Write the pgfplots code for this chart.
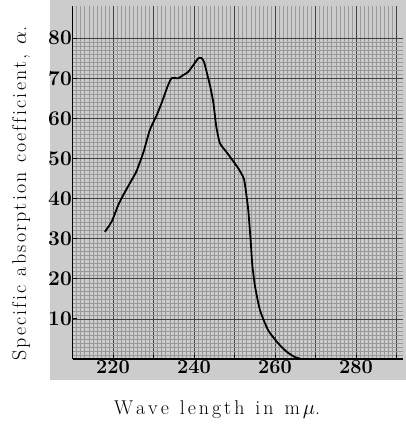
\documentclass[border=0pt]{standalone}
\usepackage{fontspec}
\usepackage{pgfplots}
\pgfplotsset{compat=1.18}
\usetikzlibrary{backgrounds}
% simple letter spacing, one word at a time
\makeatletter
\def\ls@k{0.15em}
\newcommand\lw[1]{\ls@go#1\@nil}
\def\ls@go#1{\ifx#1\@nil\else#1\kern\ls@k\expandafter\ls@go\fi}
\newcommand\lsk[1]{\def\ls@k{#1}}
\makeatother

\begin{document}
\begin{tikzpicture}
\begin{axis}[
  at={(72.5bp,69bp)}, anchor=south west,
  scale only axis, width=330bp, height=353bp,
  xmin=210, xmax=291.5, ymin=0, ymax=88,
  axis x line*=bottom, axis y line*=left,
  axis line style={-, line width=1.8bp, black},
  xtick={210,220,...,290},
  xticklabels={,220,,240,,260,,280,},
  ytick={0,10,...,80},
  yticklabels={,10,20,30,40,50,60,70,80},
  minor x tick num=9, minor y tick num=9,
  tick align=inside, major tick length=4bp, minor tick length=0pt,
  tick style={black, line width=0.8bp},
  grid=both,
  minor grid style={gray!80, line width=0.3bp},
  major grid style={black!75, line width=0.6bp},
  /pgf/number format/assume math mode=true,
  xticklabel style={anchor=north, inner sep=1bp,
    font=\bfseries\fontsize{20}{20}\selectfont},
  yticklabel style={anchor=east, inner sep=0.5bp,
    font=\bfseries\fontsize{21}{21}\selectfont},
  xlabel={\lsk{0.15em}\lw{Wave}\hspace{0.4em}\lw{length}\hspace{0.4em}\lw{in}\hspace{0.4em}\lw{m}$\mu$.},
  ylabel={\lsk{0.11em}\lw{Specific}\hspace{0.35em}\lw{absorption}\hspace{0.35em}\lw{coefficient,}\hspace{0.35em}$\alpha$.},
  xlabel style={at={(axis description cs:0.438,-0.144)}, anchor=center,
    font=\fontsize{20}{20}\selectfont},
  ylabel style={at={(axis description cs:-0.156,0.468)}, anchor=center,
    font=\fontsize{20}{20}\selectfont},
  clip=false,
]
% absorption curve
\addplot[black, line width=1.8bp, smooth, tension=0.35] coordinates {
  (218.0,31.7)(219.7,34.3)(221.3,38.4)(222.5,40.8)(224.6,44.6)
  (225.8,46.8)(227.5,51.5)(229.1,57.1)(230.8,60.8)(232.0,63.8)
  (233.5,68.0)(234.5,70.0)(236.1,70.0)(237.4,70.8)(238.6,71.6)
  (240.0,73.5)(241.1,75.0)(241.9,75.0)(242.5,74.0)(243.1,71.7)
  (244.0,68.0)(244.8,63.8)(245.5,58.0)(246.4,53.8)(248.1,51.5)
  (250.9,47.6)(252.3,45.0)(252.8,42.0)(253.4,37.2)(254.0,29.5)
  (254.4,23.5)(255.1,18.0)(256.3,12.2)(258.3,7.2)(260.8,3.9)
  (262.9,1.8)(264.9,0.5)(266.5,0)
};
\end{axis}
\begin{scope}[on background layer]
  \fill[gray!40] (50bp,48bp) rectangle (406bp,428bp);
\end{scope}
\pgfresetboundingbox
\path (0,0) rectangle (406bp,428bp);
\end{tikzpicture}
\end{document}
